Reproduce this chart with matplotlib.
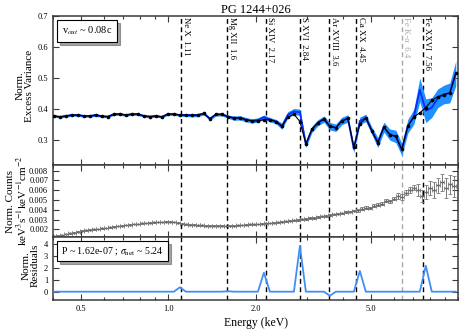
import matplotlib
matplotlib.use("Agg")
import matplotlib.pyplot as plt
from matplotlib.ticker import FixedLocator, LogLocator, FuncFormatter, NullFormatter
from matplotlib.patches import Rectangle

plt.rcParams['font.family'] = ['Liberation Serif', 'DejaVu Serif']
plt.rcParams['mathtext.fontset'] = 'stix'

# ---------------- data ----------------
title = "PG 1244+026"

# energy grid of the excess-variance spectrum (keV)
energy_var = [0.403, 0.423, 0.443, 0.465, 0.488, 0.511, 0.536, 0.563, 0.590, 0.619,
              0.649, 0.681, 0.714, 0.749, 0.785, 0.824, 0.864, 0.906, 0.950, 0.996,
              1.045, 1.097, 1.150, 1.206, 1.265, 1.327, 1.392, 1.460, 1.531, 1.606,
              1.684, 1.767, 1.853, 1.944, 2.039, 2.138, 2.243, 2.352, 2.467, 2.587,
              2.714, 2.846, 2.985, 3.131, 3.284, 3.444, 3.612, 3.788, 3.973, 4.167,
              4.370, 4.584, 4.807, 5.042, 5.288, 5.546, 5.817, 6.101, 6.398, 6.711,
              7.038, 7.382, 7.742, 8.120, 8.516, 8.932, 9.368, 9.825]

# model (black line)
var_model = [0.378, 0.375, 0.378, 0.381, 0.381, 0.378, 0.378, 0.381, 0.377, 0.376,
             0.384, 0.384, 0.381, 0.384, 0.384, 0.378, 0.376, 0.378, 0.375, 0.384,
             0.384, 0.381, 0.381, 0.380, 0.381, 0.386, 0.369, 0.383, 0.383, 0.376,
             0.371, 0.372, 0.366, 0.362, 0.362, 0.366, 0.366, 0.360, 0.345, 0.374,
             0.384, 0.360, 0.288, 0.335, 0.356, 0.368, 0.345, 0.340, 0.362, 0.370,
             0.278, 0.352, 0.372, 0.330, 0.292, 0.342, 0.318, 0.312, 0.270, 0.345,
             0.375, 0.388, 0.405, 0.428, 0.440, 0.447, 0.452, 0.515]

# data (blue line)
var_data = [0.378, 0.375, 0.378, 0.381, 0.381, 0.378, 0.378, 0.381, 0.377, 0.376,
            0.384, 0.384, 0.381, 0.384, 0.384, 0.378, 0.376, 0.378, 0.375, 0.384,
            0.384, 0.381, 0.381, 0.380, 0.381, 0.386, 0.369, 0.383, 0.383, 0.376,
            0.371, 0.372, 0.366, 0.362, 0.365, 0.374, 0.366, 0.360, 0.345, 0.382,
            0.392, 0.390, 0.286, 0.335, 0.356, 0.368, 0.345, 0.340, 0.362, 0.370,
            0.272, 0.362, 0.372, 0.330, 0.292, 0.342, 0.318, 0.312, 0.270, 0.345,
            0.375, 0.462, 0.395, 0.405, 0.435, 0.447, 0.452, 0.515]

var_err = [0.004] * 22 + [0.005] * 8 + [0.007] * 8 + [0.010] * 8 + [0.012] * 8 + \
          [0.016, 0.016, 0.018, 0.020, 0.020, 0.022, 0.024, 0.038, 0.038,
           0.032, 0.030, 0.030, 0.032, 0.040]

# residuals
residuals = [0, 0, 0, 0, 0, 0, 0, 0, 0, 0,
             0, 0, 0, 0, 0, 0, 0, 0, 0, 0,
             0, 0.37, 0, 0, 0, 0, 0, 0, 0, 0.04,
             0, 0, 0, 0, 0, 1.6, 0, 0, 0, 0,
             0, 3.85, 0, 0, 0, 0, -0.34, 0, 0, 0,
             0, 1.74, 0, 0, 0, 0, 0, 0, 0, 0,
             0, 0, 2.18, 0, 0, 0, 0, 0]

# count spectrum
energy_spec = [0.403, 0.416, 0.429, 0.443, 0.458, 0.473, 0.488, 0.504, 0.520, 0.537,
               0.554, 0.572, 0.591, 0.610, 0.629, 0.650, 0.671, 0.692, 0.715, 0.738,
               0.762, 0.786, 0.812, 0.838, 0.865, 0.893, 0.922, 0.952, 0.982, 1.014,
               1.047, 1.081, 1.116, 1.152, 1.189, 1.228, 1.267, 1.308, 1.351, 1.394,
               1.439, 1.486, 1.534, 1.583, 1.634, 1.687, 1.742, 1.798, 1.856, 1.916,
               1.978, 2.042, 2.108, 2.176, 2.246, 2.319, 2.394, 2.471, 2.551, 2.633,
               2.718, 2.806, 2.897, 2.990, 3.087, 3.187, 3.290, 3.396, 3.506, 3.619,
               3.736, 3.857, 3.981, 4.110, 4.243, 4.380, 4.521, 4.668, 4.818, 4.974,
               5.135, 5.301, 5.472, 5.649, 5.831, 6.020, 6.214, 6.415, 6.622, 6.836,
               7.057, 7.285, 7.520, 7.763, 8.014, 8.273, 8.540, 8.816, 9.101, 9.395,
               9.699]

counts = [0.00128, 0.00135, 0.00142, 0.00150, 0.00158, 0.00166, 0.00176, 0.00185, 0.00190, 0.00196,
          0.00200, 0.00205, 0.00210, 0.00215, 0.00220, 0.00226, 0.00232, 0.00238, 0.00243, 0.00248,
          0.00252, 0.00256, 0.00260, 0.00264, 0.00267, 0.00271, 0.00274, 0.00276, 0.00278, 0.00277,
          0.00274, 0.00266, 0.00256, 0.00251, 0.00248, 0.00245, 0.00242, 0.00240, 0.00238, 0.00237,
          0.00236, 0.00235, 0.00235, 0.00234, 0.00235, 0.00238, 0.00241, 0.00244, 0.00247, 0.00250,
          0.00252, 0.00254, 0.00257, 0.00260, 0.00264, 0.00268, 0.00272, 0.00276, 0.00281, 0.00286,
          0.00292, 0.00297, 0.00302, 0.00307, 0.00313, 0.00318, 0.00324, 0.00331, 0.00338, 0.00345,
          0.00352, 0.00360, 0.00362, 0.00375, 0.00382, 0.00392, 0.00395, 0.00410, 0.00420, 0.00418,
          0.00440, 0.00450, 0.00462, 0.00490, 0.00485, 0.00515, 0.00540, 0.00530, 0.00575, 0.00600,
          0.00625, 0.00600, 0.00540, 0.00580, 0.00620, 0.00600, 0.00650, 0.00680, 0.00620, 0.00660,
          0.00640]

counts_err = [0.00003] * 31 + [0.00004] * 30 + [0.00008] * 15 + [0.00015] * 10 + \
             [0.00028] * 5 + [0.0006, 0.0006, 0.0007, 0.0007, 0.0008, 0.0008, 0.0009,
                              0.0010, 0.0010, 0.0011]

line_energies = [1.11, 1.6, 2.17, 2.84, 3.6, 4.45, 6.4, 7.56]
line_labels = ['Ne X  1.11', 'Mg XII  1.6', 'Si XIV  2.17', 'S XVI  2.84',
               'Ar XVIII  3.6', 'Ca XX  4.45', 'Fe K-\u03b1  6.4', 'Fe XXVI  7.56']
line_colors = ['black', 'black', 'black', 'black', 'black', 'black', '#a8a8a8', 'black']

vout_text = r'v$_{out}$ ~ 0.08c'
stat_text = r'P ~ 1.62e-07 ; $\sigma_{\rm net}$ ~ 5.24'

# ---------------- figure ----------------
W, H = 463, 331
fig = plt.figure(figsize=(W / 100, H / 100), dpi=100)
L = 53 / W
Wd = (458 - 53) / W
ax1 = fig.add_axes([L, 1 - 165 / H, Wd, 149 / H])
ax2 = fig.add_axes([L, 1 - 237 / H, Wd, 72 / H], sharex=ax1)
ax3 = fig.add_axes([L, 1 - 300 / H, Wd, 63 / H], sharex=ax1)

spine_col = '#3a3a3a'
for ax in (ax1, ax2, ax3):
    ax.set_xscale('log')
    for s in ax.spines.values():
        s.set_linewidth(1.1)
        s.set_color(spine_col)
    ax.tick_params(which='both', direction='in', top=True, right=True,
                   labelsize=6, color=spine_col, width=0.8)
    ax.tick_params(which='major', length=4)
    ax.tick_params(which='minor', length=2)
    for E, c in zip(line_energies, line_colors):
        ax.axvline(E, color=c, lw=1.0, ls=(0, (3.5, 2.5)), zorder=1)

ax1.set_xlim(0.4, 10.0)

# top panel
lo = [d - e for d, e in zip(var_data, var_err)]
hi = [d + e for d, e in zip(var_data, var_err)]
ax1.fill_between(energy_var, lo, hi, color='#1E90FF', lw=0, zorder=2)
ax1.plot(energy_var, var_data, color='#0a2cff', lw=1.3, zorder=3)
ax1.plot(energy_var, var_model, color='black', lw=0.8, marker='o', ms=1.6, zorder=4)
ax1.set_ylim(0.22, 0.7)
ax1.yaxis.set_major_locator(FixedLocator([0.3, 0.4, 0.5, 0.6, 0.7]))
ax1.yaxis.set_major_formatter(FuncFormatter(lambda v, p: f'{v:.1f}'))
ax1.set_ylabel('Norm.\nExcess Variance', fontsize=8, linespacing=1.0)
ax1.yaxis.set_label_coords(-0.047, 0.53)
ax1.set_title(title, fontsize=9, pad=2)
plt.setp(ax1.get_xticklabels(), visible=False)

for E, lab, c in zip(line_energies, line_labels, line_colors):
    ax1.text(E * 1.004, 0.697, lab, rotation=270, ha='left', va='top',
             fontsize=6.3, color=c, zorder=5)

h = Rectangle((0, 0), 1, 1, fc='none', ec='none')
leg = ax1.legend([h], [vout_text], loc='upper left', handlelength=0, handletextpad=0,
                 fancybox=False, shadow=True, framealpha=1, edgecolor='black',
                 fontsize=7.5, borderpad=0.45, borderaxespad=0.4)
leg.get_frame().set_linewidth(0.8)

# middle panel
xerr_lo = [e * (1 - 1 / 1.016) for e in energy_spec]
xerr_hi = [e * 0.016 for e in energy_spec]
ax2.errorbar(energy_spec, counts, yerr=counts_err, xerr=[xerr_lo, xerr_hi], fmt='.',
             ms=1.5, color='#666666', ecolor='#7a7a7a', elinewidth=0.7, capsize=1.2,
             capthick=0.6, zorder=3)
ax2.set_ylim(0.00121, 0.00858)
ax2.yaxis.set_major_locator(FixedLocator([0.002, 0.003, 0.004, 0.005, 0.006, 0.007, 0.008]))
ax2.yaxis.set_major_formatter(FuncFormatter(lambda v, p: f'{v:.3f}'))
ax2.set_ylabel('Norm. Counts\nkeV$^{3}$s$^{-1}$keV$^{-1}$cm$^{-2}$', fontsize=8, linespacing=1.0)
ax2.yaxis.set_label_coords(-0.059, 0.5)
plt.setp(ax2.get_xticklabels(), visible=False)

# bottom panel
ax3.plot(energy_var, residuals, color='#3f8ff5', lw=1.3, zorder=3)
ax3.set_ylim(-0.7, 4.6)
ax3.yaxis.set_major_locator(FixedLocator([0, 1, 2, 3, 4]))
ax3.yaxis.set_major_formatter(FuncFormatter(lambda v, p: f'{v:.0f}'))
ax3.set_ylabel('Norm.\nResiduals', fontsize=8, linespacing=1.0)
ax3.yaxis.set_label_coords(-0.032, 0.55)
ax3.set_xlabel('Energy (keV)', fontsize=8.5, labelpad=3)
leg2 = ax3.legend([h], [stat_text], loc='upper left', handlelength=0, handletextpad=0,
                  fancybox=False, shadow=True, framealpha=1, edgecolor='black',
                  fontsize=7.2, borderpad=0.4, borderaxespad=0.4)
leg2.get_frame().set_linewidth(0.8)

ax1.xaxis.set_major_locator(FixedLocator([0.5, 1.0, 2.0, 5.0]))
ax1.xaxis.set_minor_locator(LogLocator(base=10, subs=range(1, 10), numticks=20))
ax1.xaxis.set_major_formatter(FuncFormatter(lambda v, p: f'{v:.1f}'))
ax1.xaxis.set_minor_formatter(NullFormatter())
ax1.set_xlim(0.4, 10.0)

fig.savefig('out.png', dpi=100)
